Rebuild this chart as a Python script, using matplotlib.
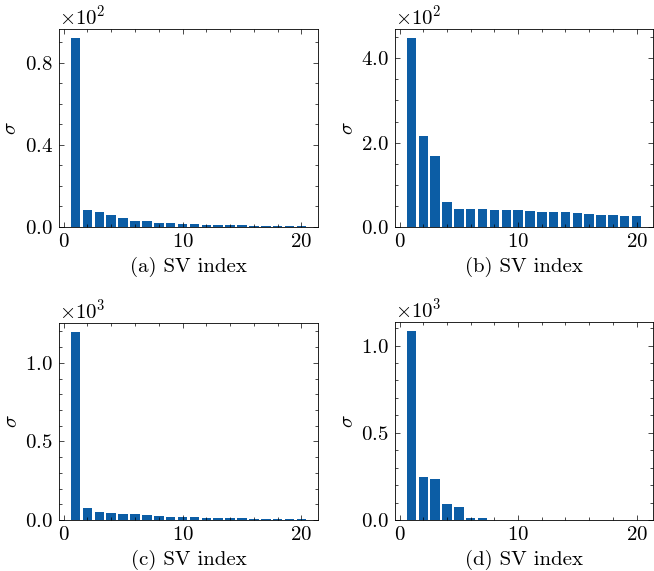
import numpy as np
import matplotlib
matplotlib.use("Agg")
import matplotlib.pyplot as plt
from matplotlib.ticker import MultipleLocator, AutoMinorLocator, ScalarFormatter

plt.rcParams['font.family'] = 'serif'
plt.rcParams['font.serif'] = ['cmr10', 'DejaVu Serif']
plt.rcParams['mathtext.fontset'] = 'cm'
plt.rcParams['axes.formatter.use_mathtext'] = True
plt.rcParams['axes.unicode_minus'] = False
plt.rcParams['font.size'] = 15

bar_color = '#0C5DA5'

sv_index = np.arange(1, 21)

# singular values
sv_a = [91.9, 8.5, 7.5, 5.7, 4.4, 2.9, 2.7, 2.1, 1.8, 1.5,
        1.3, 1.1, 1.0, 0.9, 0.8, 0.7, 0.7, 0.6, 0.5, 0.5]
sv_b = [447, 215, 169, 59.3, 43.5, 43.5, 42.7, 41.1, 40.3, 39.5,
        37.2, 35.6, 34.8, 34.8, 33.2, 30.8, 29.2, 27.7, 26.9, 25.3]
sv_c = [1194, 78, 51, 46, 38, 36, 32, 25, 21, 21,
        17, 15, 13, 11, 11, 8, 7, 6, 5, 4]
sv_d = [1082, 247, 234, 92, 75, 13, 10, 1, 0.5, 0.3,
        0.2, 0.2, 0.1, 0.1, 0.1, 0.1, 0.1, 0.1, 0.1, 0.1]

panels = ['(a) SV index', '(b) SV index', '(c) SV index', '(d) SV index']
values = [sv_a, sv_b, sv_c, sv_d]
powers = [2, 2, 3, 3]
major_steps = [40, 200, 500, 500]

# axes boxes in figure fractions
boxes = [
    [0.0902, 0.6025, 0.396, 0.3467],
    [0.6040, 0.6025, 0.3945, 0.3467],
    [0.0902, 0.0893, 0.396, 0.3452],
    [0.6040, 0.0893, 0.3945, 0.3470],
]


class OneDecimal(ScalarFormatter):
    def _set_format(self):
        self.format = r'$\mathdefault{%1.1f}$'


fig = plt.figure(figsize=(6.54, 5.71), dpi=100)

for box, vals, label, pw, step in zip(boxes, values, panels, powers, major_steps):
    ax = fig.add_axes(box)
    ax.bar(sv_index, vals, width=0.8, color=bar_color)
    ax.set_xlabel(label, labelpad=4)
    ax.set_ylabel(r'$\sigma$', labelpad=3)
    ax.xaxis.set_major_locator(MultipleLocator(10))
    ax.xaxis.set_minor_locator(AutoMinorLocator())
    ax.yaxis.set_major_locator(MultipleLocator(step))
    ax.yaxis.set_minor_locator(AutoMinorLocator())
    fmt = OneDecimal(useMathText=True)
    fmt.set_powerlimits((pw, pw))
    ax.yaxis.set_major_formatter(fmt)
    ax.tick_params(which='both', direction='in', top=True, right=True, width=0.5)
    ax.tick_params(which='major', length=3.5, pad=4.5)
    ax.tick_params(which='minor', length=2)
    for s in ax.spines.values():
        s.set_linewidth(0.6)
    ax.yaxis.get_offset_text().set_fontsize(15)

fig.savefig('out.png', dpi=100)
